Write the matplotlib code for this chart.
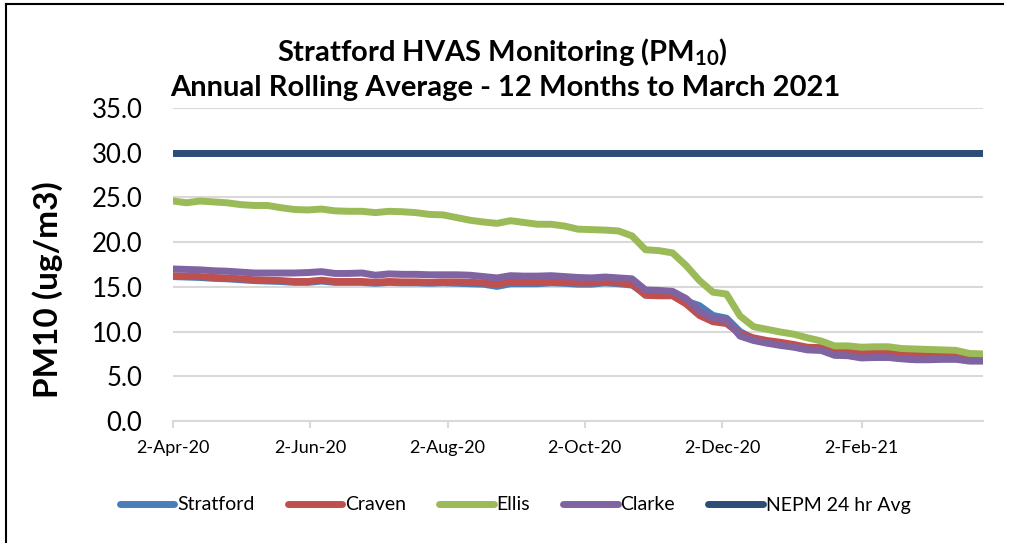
import matplotlib
matplotlib.use("Agg")
import matplotlib.pyplot as plt
from matplotlib.lines import Line2D
import numpy as np
import pandas as pd

plt.rcParams['font.family'] = ['Lato', 'DejaVu Sans']
plt.rcParams['mathtext.fontset'] = 'custom'
plt.rcParams['mathtext.rm'] = 'Lato'
plt.rcParams['mathtext.bf'] = 'Lato:bold'

# HVAS runs on a 1-in-6 day schedule
dates = pd.date_range('2020-04-02', periods=61, freq='6D')

stratford = [16.15, 16.1, 16.05, 15.95, 15.9, 15.8, 15.7, 15.65, 15.6, 15.5,
             15.5, 15.65, 15.5, 15.5, 15.5, 15.4, 15.5, 15.45, 15.45, 15.4,
             15.45, 15.4, 15.35, 15.3, 15.05, 15.35, 15.35, 15.35, 15.45, 15.4,
             15.3, 15.3, 15.45, 15.35, 15.2, 14.2, 14.15, 14.1, 13.4, 12.9,
             11.8, 11.5, 10.0, 9.2, 8.85, 8.55, 8.3, 8.0, 7.95, 7.4,
             7.35, 7.1, 7.15, 7.15, 7.0, 6.9, 6.9, 6.95, 6.95, 6.75, 6.75]
craven = [16.25, 16.2, 16.15, 16.05, 16.0, 15.9, 15.8, 15.75, 15.7, 15.6,
          15.6, 15.75, 15.6, 15.6, 15.6, 15.5, 15.6, 15.55, 15.55, 15.5,
          15.55, 15.55, 15.5, 15.45, 15.3, 15.55, 15.5, 15.5, 15.55, 15.5,
          15.45, 15.45, 15.55, 15.45, 15.3, 14.05, 14.0, 14.0, 13.1, 11.8,
          11.1, 10.9, 9.75, 9.3, 9.0, 8.8, 8.55, 8.25, 8.2, 7.75,
          7.75, 7.55, 7.6, 7.6, 7.45, 7.35, 7.3, 7.3, 7.3, 7.05, 7.0]
ellis = [24.6, 24.4, 24.6, 24.5, 24.4, 24.2, 24.1, 24.1, 23.85, 23.65,
         23.6, 23.7, 23.5, 23.45, 23.45, 23.3, 23.45, 23.4, 23.3, 23.1,
         23.05, 22.75, 22.45, 22.25, 22.1, 22.4, 22.2, 22.0, 22.0, 21.8,
         21.45, 21.4, 21.35, 21.25, 20.7, 19.15, 19.05, 18.8, 17.4, 15.7,
         14.4, 14.2, 11.75, 10.55, 10.25, 9.95, 9.7, 9.3, 8.95, 8.4,
         8.4, 8.25, 8.3, 8.3, 8.1, 8.05, 8.0, 7.95, 7.9, 7.55, 7.5]
clarke = [17.0, 16.95, 16.9, 16.8, 16.75, 16.65, 16.55, 16.55, 16.55, 16.55,
          16.6, 16.7, 16.5, 16.5, 16.55, 16.3, 16.45, 16.4, 16.4, 16.35,
          16.35, 16.35, 16.3, 16.15, 16.0, 16.25, 16.2, 16.2, 16.25, 16.15,
          16.05, 16.0, 16.1, 16.0, 15.9, 14.65, 14.6, 14.5, 13.7, 12.3,
          11.5, 11.3, 9.5, 9.0, 8.7, 8.45, 8.25, 7.95, 7.9, 7.35,
          7.3, 7.05, 7.1, 7.1, 6.95, 6.85, 6.85, 6.9, 6.9, 6.7, 6.7]
nepm = [30.0] * len(dates)

series_names = ['Stratford', 'Craven', 'Ellis', 'Clarke', 'NEPM 24 hr Avg']
series_colors = ['#4A7EBB', '#C0504D', '#9BBB59', '#8064A2', '#2C4D75']

tick_dates = pd.to_datetime(['2020-04-02', '2020-06-02', '2020-08-02',
                             '2020-10-02', '2020-12-02', '2021-02-02'])
tick_labels = ['2-Apr-20', '2-Jun-20', '2-Aug-20', '2-Oct-20', '2-Dec-20', '2-Feb-21']

fig = plt.figure(figsize=(10.1, 5.43), dpi=100)
ax = fig.add_axes([173 / 1010, 1 - 421 / 543, 810 / 1010, 313 / 543])

all_series = [stratford, craven, ellis, clarke, nepm]
for vals, name, col in zip(all_series, series_names, series_colors):
    ax.plot(dates, vals, color=col, lw=5, label=name,
            solid_capstyle='round', solid_joinstyle='round')

ax.set_xlim(dates[0], dates[-1])
ax.set_ylim(0, 35)
ax.set_yticks(np.arange(0, 36, 5))
ax.yaxis.set_major_formatter(matplotlib.ticker.FormatStrFormatter('%.1f'))
ax.grid(axis='y', color='#D9D9D9', lw=1.5)
ax.set_axisbelow(True)
ax.set_xticks(tick_dates)
ax.set_xticklabels(tick_labels)

for s in ['left', 'right', 'top']:
    ax.spines[s].set_visible(False)
ax.spines['bottom'].set_color('#D9D9D9')
ax.spines['bottom'].set_linewidth(1.5)

ax.tick_params(axis='y', length=0, pad=22, labelsize=18.5)
ax.tick_params(axis='x', length=5, width=1.5, color='#D9D9D9', direction='out',
               pad=9, labelsize=13)

fig.text(48 / 1010, 1 - 290 / 543, 'PM10 (ug/m3)', rotation=90,
         ha='center', va='center', fontsize=24, fontweight='bold')

fig.text(0.497, 1 - 52 / 543, r'Stratford HVAS Monitoring (PM$_{\mathbf{10}}$)',
         ha='center', va='center', fontsize=21, fontweight='bold')
fig.text(0.500, 1 - 88 / 543, 'Annual Rolling Average - 12 Months to March 2021',
         ha='center', va='center', fontsize=21, fontweight='bold')

handles = [Line2D([], [], color=c, lw=5, solid_capstyle='round') for c in series_colors]
fig.legend(handles, series_names, loc='center', ncol=5, frameon=False,
           bbox_to_anchor=(0.51, 1 - 505 / 543), fontsize=14,
           handlelength=2.8, handletextpad=0.15, columnspacing=1.7)

# outer chart frame
fig.add_artist(Line2D([6 / 1010, 6 / 1010], [0, 1 - 4 / 543], color='black', lw=1.5,
                      transform=fig.transFigure))
fig.add_artist(Line2D([6 / 1010, 1003 / 1010], [1 - 4 / 543, 1 - 4 / 543], color='black',
                      lw=1.5, transform=fig.transFigure))

fig.savefig('out.png', dpi=100, facecolor='white')
